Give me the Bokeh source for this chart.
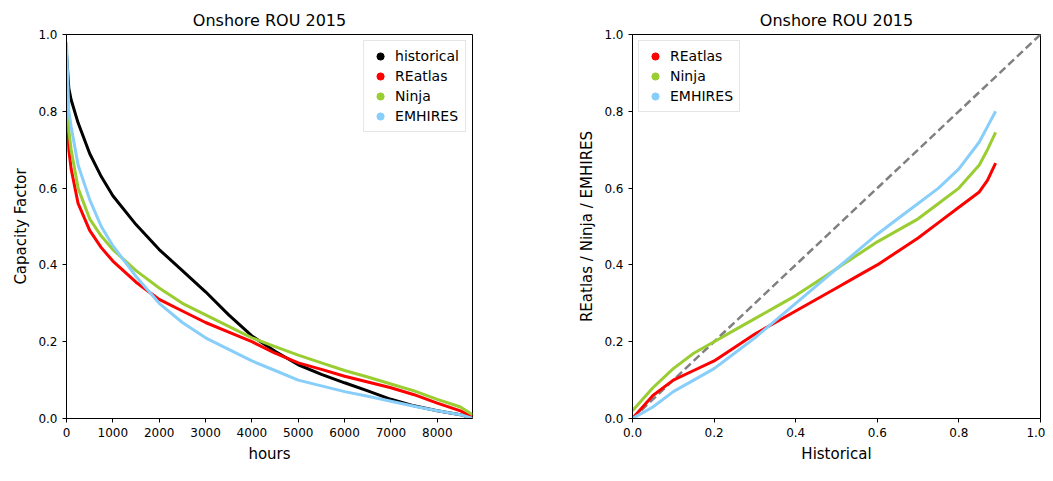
from bokeh.plotting import figure
from bokeh.layouts import row
from bokeh.models import Range1d, Legend, LegendItem
from bokeh.embed import file_html
from bokeh.resources import INLINE

hours = [0,50,100,250,500,750,1000,1500,2000,2500,3000,3500,4000,4500,5000,5500,6000,6500,7000,7500,8000,8500,8760]
historical = [0.95,0.86,0.83,0.77,0.69,0.63,0.58,0.505,0.44,0.385,0.33,0.27,0.215,0.175,0.14,0.115,0.093,0.072,0.05,0.033,0.02,0.01,0.0]
reatlas = [0.85,0.7,0.65,0.56,0.49,0.445,0.41,0.355,0.31,0.28,0.25,0.225,0.2,0.17,0.145,0.128,0.11,0.095,0.08,0.062,0.04,0.02,0.005]
ninja = [0.9,0.75,0.7,0.6,0.52,0.475,0.44,0.385,0.34,0.3,0.27,0.24,0.21,0.187,0.165,0.145,0.125,0.108,0.09,0.072,0.05,0.03,0.01]
emhires = [0.98,0.8,0.76,0.66,0.57,0.5,0.45,0.37,0.3,0.25,0.21,0.18,0.15,0.125,0.1,0.085,0.07,0.058,0.045,0.032,0.02,0.01,0.0]

qq_hist = [0.0,0.05,0.1,0.15,0.2,0.25,0.3,0.35,0.4,0.45,0.5,0.55,0.6,0.65,0.7,0.75,0.8,0.85,0.87,0.89]
qq_reatlas = [0.0,0.06,0.1,0.125,0.15,0.185,0.22,0.25,0.28,0.31,0.34,0.37,0.4,0.435,0.47,0.51,0.55,0.59,0.62,0.665]
qq_ninja = [0.02,0.08,0.13,0.17,0.2,0.23,0.26,0.29,0.32,0.355,0.39,0.425,0.46,0.49,0.52,0.56,0.6,0.66,0.7,0.745]
qq_emhires = [0.0,0.03,0.07,0.1,0.13,0.17,0.21,0.255,0.3,0.345,0.39,0.435,0.48,0.52,0.56,0.6,0.65,0.72,0.76,0.8]

BLACK, RED, GREEN, BLUE = "black", "#ff0000", "#9acd32", "#87cefa"
TICKS = [0, 0.2, 0.4, 0.6, 0.8, 1.0]
LABELS = {0: "0.0", 0.2: "0.2", 0.4: "0.4", 0.6: "0.6", 0.8: "0.8", 1.0: "1.0"}

def style(p, xl, yl):
    p.title.align = "center"
    p.title.text_font_size = "16px"
    p.title.text_font_style = "normal"
    p.title.text_font = "DejaVu Sans"
    p.title.text_color = "black"
    p.xgrid.visible = False
    p.ygrid.visible = False
    for ax in (p.xaxis, p.yaxis):
        ax.axis_label_text_font_style = "normal"
        ax.axis_label_text_font_size = "15px"
        ax.axis_label_text_font = "DejaVu Sans"
        ax.axis_label_text_color = "black"
        ax.major_label_text_font_size = "12px"
        ax.major_label_text_font = "DejaVu Sans"
        ax.major_label_text_color = "black"
        ax.minor_tick_line_color = None
        ax.major_tick_line_color = "black"
        ax.axis_line_color = "black"
        ax.major_tick_out = 4
        ax.major_tick_in = 0
    p.xaxis.axis_label = xl
    p.yaxis.axis_label = yl
    p.yaxis.ticker = TICKS
    p.yaxis.major_label_overrides = LABELS
    p.outline_line_color = "black"

def make_legend(p, series, loc, offx):
    items = []
    for name, c in series:
        r = p.scatter([offx], [-5], color=c, size=7)
        items.append(LegendItem(label=name, renderers=[r]))
    lg = Legend(items=items, location=loc, label_text_font_size="14px", label_text_font="DejaVu Sans",
                label_text_color="black",
                border_line_color="#cccccc", spacing=2, padding=6, label_height=18, glyph_height=18, margin=6)
    p.add_layout(lg)

p1 = figure(width=518, height=465, output_backend="svg", toolbar_location=None,
            title="Onshore ROU 2015", x_range=Range1d(0, 8760), y_range=Range1d(0, 1),
            min_border_left=66, min_border_right=46, min_border_top=34, min_border_bottom=43)
style(p1, "hours", "Capacity Factor")
p1.xaxis.ticker = [0,1000,2000,3000,4000,5000,6000,7000,8000]
s1 = [("historical", historical, BLACK), ("REatlas", reatlas, RED), ("Ninja", ninja, GREEN), ("EMHIRES", emhires, BLUE)]
for name, ys, c in s1:
    p1.line(hours, ys, line_color=c, line_width=3)
make_legend(p1, [(n, c) for n, _, c in s1], "top_right", -5000)

p2 = figure(width=527, height=465, output_backend="svg", toolbar_location=None,
            title="Onshore ROU 2015", x_range=Range1d(0, 1), y_range=Range1d(0, 1),
            min_border_left=114, min_border_right=5, min_border_top=34, min_border_bottom=43)
style(p2, "Historical", "REatlas / Ninja / EMHIRES")
p2.xaxis.ticker = TICKS
p2.xaxis.major_label_overrides = LABELS
p2.line([0, 1], [0, 1], line_color="gray", line_width=2.5, line_dash="8 4")
s2 = [("REatlas", qq_reatlas, RED), ("Ninja", qq_ninja, GREEN), ("EMHIRES", qq_emhires, BLUE)]
for name, ys, c in s2:
    p2.line(qq_hist, ys, line_color=c, line_width=3)
make_legend(p2, [(n, c) for n, _, c in s2], "top_left", -5)

layout = row(p1, p2)
open("out.html", "w").write(file_html(layout, INLINE))
